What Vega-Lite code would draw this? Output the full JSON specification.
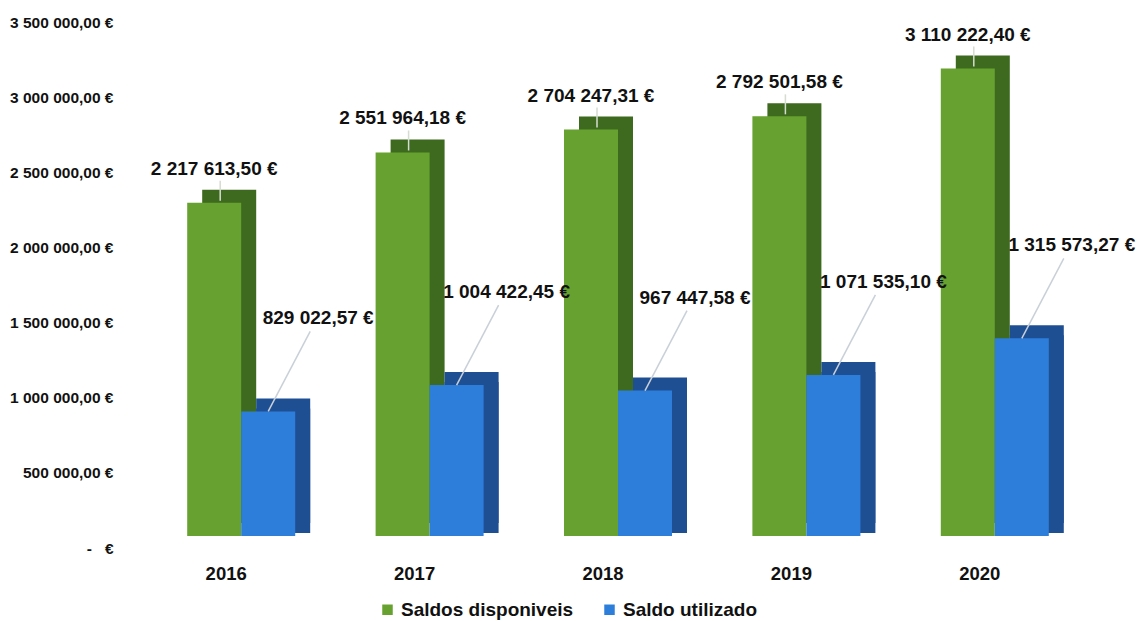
{
  "$schema": "https://vega.github.io/schema/vega-lite/v6.json",
  "width": 942,
  "height": 526,
  "autosize": "none",
  "padding": {"left": 132, "top": 22, "right": 71, "bottom": 73},
  "background": "white",
  "config": {
    "view": {"stroke": null},
    "font": "Liberation Sans",
    "locale": {"number": {"decimal": ",", "thousands": " ", "grouping": [3], "currency": ["", " €"]}}
  },
  "data": {
    "values": [
      {"year": "2016", "series": "Saldos disponiveis", "value": 2217613.50},
      {"year": "2016", "series": "Saldo utilizado", "value": 829022.57},
      {"year": "2017", "series": "Saldos disponiveis", "value": 2551964.18},
      {"year": "2017", "series": "Saldo utilizado", "value": 1004422.45},
      {"year": "2018", "series": "Saldos disponiveis", "value": 2704247.31},
      {"year": "2018", "series": "Saldo utilizado", "value": 967447.58},
      {"year": "2019", "series": "Saldos disponiveis", "value": 2792501.58},
      {"year": "2019", "series": "Saldo utilizado", "value": 1071535.10},
      {"year": "2020", "series": "Saldos disponiveis", "value": 3110222.40},
      {"year": "2020", "series": "Saldo utilizado", "value": 1315573.27}
    ]
  },
  "encoding": {
    "x": {
      "field": "year", "type": "nominal",
      "scale": {"paddingInner": 0, "paddingOuter": 0},
      "axis": {"title": null, "labelAngle": 0, "domain": false, "ticks": false, "labelFontSize": 18.5, "labelFontWeight": "bold", "labelColor": "#111", "labelPadding": 16}
    },
    "y": {
      "field": "value", "type": "quantitative",
      "scale": {"domain": [0, 3500000], "nice": false},
      "axis": {"title": null, "domain": false, "ticks": false, "grid": false, "labelOverlap": false, "values": [0, 500000, 1000000, 1500000, 2000000, 2500000, 3000000, 3500000], "format": "$,.2f", "labelExpr": "datum.value == 0 ? '-\u00a0\u00a0\u00a0€' : datum.label", "labelFontSize": 15.5, "labelFontWeight": "bold", "labelColor": "#111", "labelPadding": 19}
    }
  },
  "layer": [
    {
      "transform": [{"filter": "datum.series == 'Saldos disponiveis'"}],
      "mark": {"type": "bar", "width": 54, "xOffset": 3, "yOffset": -25, "y2Offset": -25},
      "encoding": {
        "color": {"field": "series", "type": "nominal", "scale": {"range": ["#3d6a1e"]}, "legend": null}
      }
    },
    {
      "transform": [{"filter": "datum.series == 'Saldo utilizado'"}],
      "mark": {"type": "bar", "width": 54, "xOffset": 57, "yOffset": -25, "y2Offset": -25, "color": "#1f4f93"}
    },
    {
      "transform": [{"filter": "datum.series == 'Saldo utilizado'"}],
      "mark": {"type": "bar", "width": 54, "xOffset": 57, "yOffset": -15, "y2Offset": -15, "color": "#1f4f93"}
    },
    {
      "transform": [{"filter": "datum.series == 'Saldos disponiveis'"}],
      "mark": {"type": "bar", "width": 54, "xOffset": -12, "yOffset": -12, "y2Offset": -12},
      "encoding": {
        "color": {"field": "series", "type": "nominal", "sort": ["Saldos disponiveis", "Saldo utilizado"], "scale": {"domain": ["Saldos disponiveis", "Saldo utilizado"], "range": ["#67a12f", "#2d7edb"]},
          "legend": {"title": null, "orient": "none", "legendX": 246, "legendY": 578, "direction": "horizontal", "symbolType": "square", "symbolSize": 110, "labelFontSize": 19, "labelFontWeight": "bold", "labelColor": "#111", "columnPadding": 26, "labelLimit": 0, "symbolStrokeWidth": 0}
        }
      }
    },
    {
      "transform": [{"filter": "datum.series == 'Saldo utilizado'"}],
      "mark": {"type": "bar", "width": 54, "xOffset": 42, "yOffset": -12, "y2Offset": -12, "color": "#2d7edb"}
    },
    {
      "transform": [{"filter": "datum.series == 'Saldos disponiveis'"}],
      "mark": {"type": "rule", "color": "#d5dcd0", "strokeWidth": 1.5, "xOffset": -6, "x2Offset": -6, "yOffset": -14, "y2Offset": -34},
      "encoding": {"x2": {"field": "year"}, "y2": {"field": "value"}}
    },
    {
      "transform": [{"filter": "datum.series == 'Saldos disponiveis'"}],
      "mark": {"type": "text", "baseline": "bottom", "dy": -36, "dx": -12, "fontSize": 19, "fontWeight": "bold", "color": "#111"},
      "encoding": {"text": {"field": "value", "type": "quantitative", "format": "$,.2f"}}
    },
    {
      "transform": [{"filter": "datum.series == 'Saldo utilizado'"}],
      "mark": {"type": "rule", "color": "#c8d0d8", "strokeWidth": 1.5, "xOffset": 42, "x2Offset": 84, "yOffset": -12, "y2Offset": -92},
      "encoding": {"x2": {"field": "year"}, "y2": {"field": "value"}}
    },
    {
      "transform": [{"filter": "datum.series == 'Saldo utilizado'"}],
      "mark": {"type": "text", "baseline": "middle", "dy": -105, "dx": 92, "fontSize": 19, "fontWeight": "bold", "color": "#111"},
      "encoding": {"text": {"field": "value", "type": "quantitative", "format": "$,.2f"}}
    }
  ],
  "resolve": {"scale": {"color": "independent"}}
}
